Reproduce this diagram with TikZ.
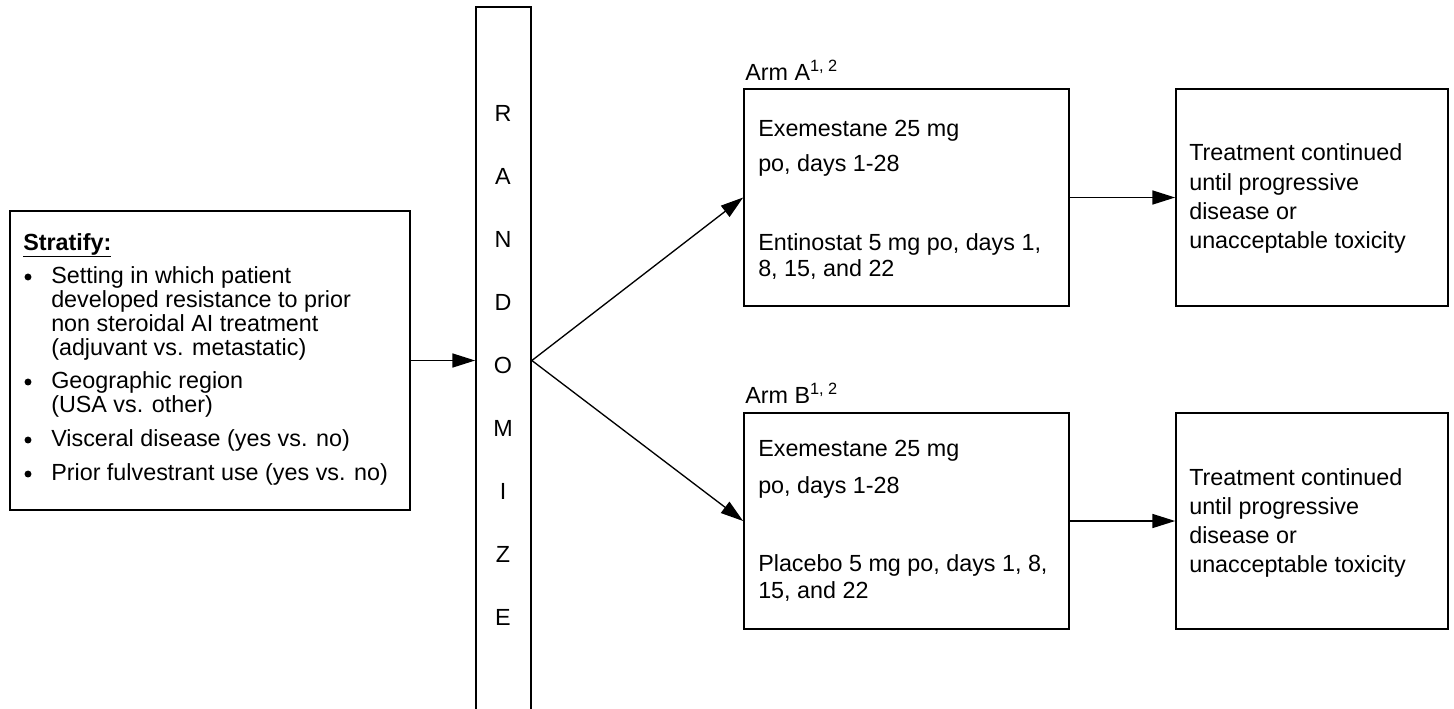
\documentclass[tikz,border=0pt]{standalone}
\usepackage{fontspec}
\setmainfont{Liberation Sans}
\usetikzlibrary{arrows.meta,fit}
\begin{document}
\begin{tikzpicture}[x=0.75pt,y=-0.75pt,
  box/.style={draw, line width=1.3pt, rectangle, inner sep=0pt},
  txt/.style={anchor=base west, inner sep=0pt, font=\fontsize{17.5}{21}\selectfont},
  bul/.style={circle, fill, inner sep=0pt, minimum size=5.2pt},
  letter/.style={anchor=center, inner sep=0pt, font=\fontsize{17.5}{21}\selectfont},
  conn/.style={line width=1pt, -{Triangle[length=17pt,width=10.5pt]}}]
\useasboundingbox (0,0) rectangle (1454,708);

% boxes
\node[box, fit={(10,211) (410,510)}] (strat) {};
\node[box, fit={(476,7) (531,716)}] (rand) {};
\node[box, fit={(744,89) (1069,306)}] (armA) {};
\node[box, fit={(744,413) (1069,629)}] (armB) {};
\node[box, fit={(1176,89) (1448,306)}] (resA) {};
\node[box, fit={(1176,413) (1448,629)}] (resB) {};

% stratify text
\node[txt] (s0) at (23,250) {\underline{\textbf{Stratify:}}};
\node[bul] (b1) at (28,277) {};
\node[txt] (s1a) at (51,283) {Setting in which patient};
\node[txt] (s1b) at (51,307) {developed resistance to prior};
\node[txt] (s1c) at (51,331) {non steroidal AI treatment};
\node[txt] (s1d) at (51,355) {(adjuvant vs. metastatic)};
\node[bul] (b2) at (28,382) {};
\node[txt] (s2a) at (51,388) {Geographic region};
\node[txt] (s2b) at (51,412) {(USA vs. other)};
\node[bul] (b3) at (28,440) {};
\node[txt] (s3) at (51,446) {Visceral disease (yes vs. no)};
\node[bul] (b4) at (28,474) {};
\node[txt] (s4) at (51,480) {Prior fulvestrant use (yes vs. no)};

% randomize letters
\node[letter] (r1) at (503,113) {R};
\node[letter] (r2) at (503,176) {A};
\node[letter] (r3) at (503,239) {N};
\node[letter] (r4) at (503,302) {D};
\node[letter] (r5) at (503,365) {O};
\node[letter] (r6) at (503,428) {M};
\node[letter] (r7) at (503,491) {I};
\node[letter] (r8) at (503,554) {Z};
\node[letter] (r9) at (503,617) {E};

% arm labels
\node[txt] (la) at (745,80) {Arm A\textsuperscript{1, 2}};
\node[txt] (lb) at (745,403) {Arm B\textsuperscript{1, 2}};

% arm A text
\node[txt] (a1) at (758,136) {Exemestane 25 mg};
\node[txt] (a2) at (758,171) {po, days 1-28};
\node[txt] (a3) at (758,250) {Entinostat 5 mg po, days 1,};
\node[txt] (a4) at (758,276) {8, 15, and 22};

% arm B text
\node[txt] (c1) at (758,456) {Exemestane 25 mg};
\node[txt] (c2) at (758,493) {po, days 1-28};
\node[txt] (c3) at (758,571) {Placebo 5 mg po, days 1, 8,};
\node[txt] (c4) at (758,598) {15, and 22};

% result text
\node[txt] (ta1) at (1189,160) {Treatment continued};
\node[txt] (ta2) at (1189,190) {until progressive};
\node[txt] (ta3) at (1189,219) {disease or};
\node[txt] (ta4) at (1189,248) {unacceptable toxicity};
\node[txt] (tb1) at (1189,485) {Treatment continued};
\node[txt] (tb2) at (1189,514) {until progressive};
\node[txt] (tb3) at (1189,543) {disease or};
\node[txt] (tb4) at (1189,572) {unacceptable toxicity};

% connectors
\draw[conn] (strat.east) -- (strat.east -| rand.west);
\coordinate (fork) at (strat.east -| rand.east);
\draw[conn] (fork) -- (armA.west);
\draw[conn] (fork) -- (armB.west);
\draw[conn] (armA.east) -- (resA.west);
\draw[conn] (armB.east) -- (resB.west);
\end{tikzpicture}
\end{document}
